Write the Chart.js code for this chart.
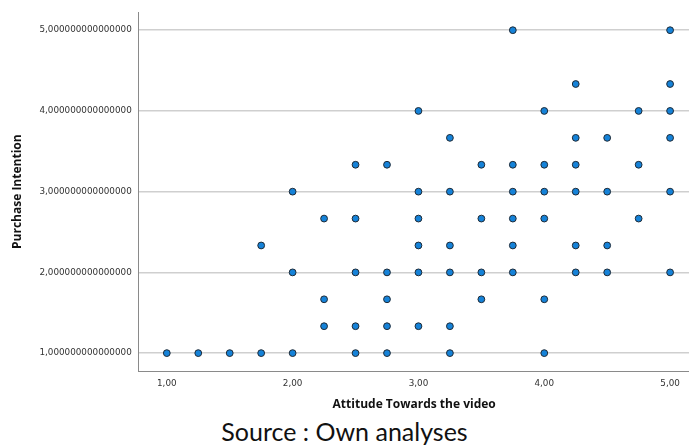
<!DOCTYPE html>
<html>
<head>
<meta charset="utf-8">
<script src="https://cdn.jsdelivr.net/npm/chart.js@4/dist/chart.umd.min.js"></script>
<style>
  html, body { margin: 0; padding: 0; background: #fff; overflow: hidden; }
  #wrap { position: relative; width: 689px; height: 412px; overflow: hidden; }
  #source { position: absolute; left: 0; top: 416px; width: 689px; text-align: center;
            font-family: Lato, "Open Sans", sans-serif; font-size: 25px; color: #111; }
</style>
</head>
<body>
<div id="wrap"><canvas id="c" width="694" height="412"></canvas></div>
<div id="source">Source : Own analyses</div>
<script>
// Respondent scores: attitude towards the video (x) and purchase intention (y)
const attitudeScores = [
  1.00,
  1.25,
  1.50,
  1.75, 1.75,
  2.00, 2.00, 2.00,
  2.25, 2.25, 2.25,
  2.50, 2.50, 2.50, 2.50, 2.50,
  2.75, 2.75, 2.75, 2.75, 2.75,
  3.00, 3.00, 3.00, 3.00, 3.00, 3.00,
  3.25, 3.25, 3.25, 3.25, 3.25, 3.25,
  3.50, 3.50, 3.50, 3.50,
  3.75, 3.75, 3.75, 3.75, 3.75, 3.75,
  4.00, 4.00, 4.00, 4.00, 4.00, 4.00,
  4.25, 4.25, 4.25, 4.25, 4.25, 4.25,
  4.50, 4.50, 4.50, 4.50,
  4.75, 4.75, 4.75,
  5.00, 5.00, 5.00, 5.00, 5.00, 5.00
];
const purchaseScores = [
  1,
  1,
  1,
  1, 7/3,
  1, 2, 3,
  4/3, 5/3, 8/3,
  1, 4/3, 2, 8/3, 10/3,
  1, 4/3, 5/3, 2, 10/3,
  4/3, 2, 7/3, 8/3, 3, 4,
  1, 4/3, 2, 7/3, 3, 11/3,
  5/3, 2, 8/3, 10/3,
  2, 7/3, 8/3, 3, 10/3, 5,
  1, 5/3, 8/3, 3, 10/3, 4,
  2, 7/3, 3, 10/3, 11/3, 13/3,
  2, 7/3, 3, 11/3,
  8/3, 10/3, 4,
  2, 3, 11/3, 4, 13/3, 5
];
const xTickValues = [1, 2, 3, 4, 5];
const yTickValues = [1, 2, 3, 4, 5];

const points = attitudeScores.map((x, i) => ({ x: x, y: purchaseScores[i] }));

const tickFont = { family: "'DejaVu Sans', sans-serif", size: 8.8 };
const titleFont = { family: "'Open Sans', 'DejaVu Sans', sans-serif", size: 12, weight: 'bold' };

new Chart(document.getElementById('c'), {
  type: 'scatter',
  data: {
    datasets: [{
      data: points,
      backgroundColor: '#1582d8',
      borderColor: '#1e2a36',
      borderWidth: 1,
      pointRadius: 3.4,
      pointHoverRadius: 3.4
    }]
  },
  options: {
    responsive: false,
    animation: false,
    events: [],
    layout: { padding: { top: 8, right: 0, bottom: 0, left: 10 } },
    plugins: { legend: { display: false }, tooltip: { enabled: false } },
    scales: {
      x: {
        type: 'linear',
        min: 0.777,
        max: 5.155,
        afterBuildTicks: axis => { axis.ticks = xTickValues.map(v => ({ value: v })); },
        grid: { display: false, drawTicks: false },
        border: { display: true, color: '#8a8a8a', width: 1 },
        ticks: {
          color: '#333',
          font: tickFont,
          padding: 7,
          maxRotation: 0,
          callback: v => v.toFixed(2).replace('.', ',')
        },
        title: { display: true, text: 'Attitude Towards the video', color: '#111',
                 font: titleFont, padding: { top: 2, bottom: 0 } }
      },
      y: {
        type: 'linear',
        min: 0.778,
        max: 5.222,
        afterBuildTicks: axis => { axis.ticks = yTickValues.map(v => ({ value: v })); },
        grid: { display: true, color: '#cfcfcf', lineWidth: 1.5, drawTicks: false },
        border: { display: true, color: '#8a8a8a', width: 1 },
        ticks: {
          color: '#333',
          font: tickFont,
          padding: 7,
          callback: v => v.toFixed(15).replace('.', ',')
        },
        title: { display: true, text: 'Purchase Intention', color: '#111',
                 font: titleFont, padding: { top: 0, bottom: 8 } }
      }
    }
  }
});
</script>
</body>
</html>
